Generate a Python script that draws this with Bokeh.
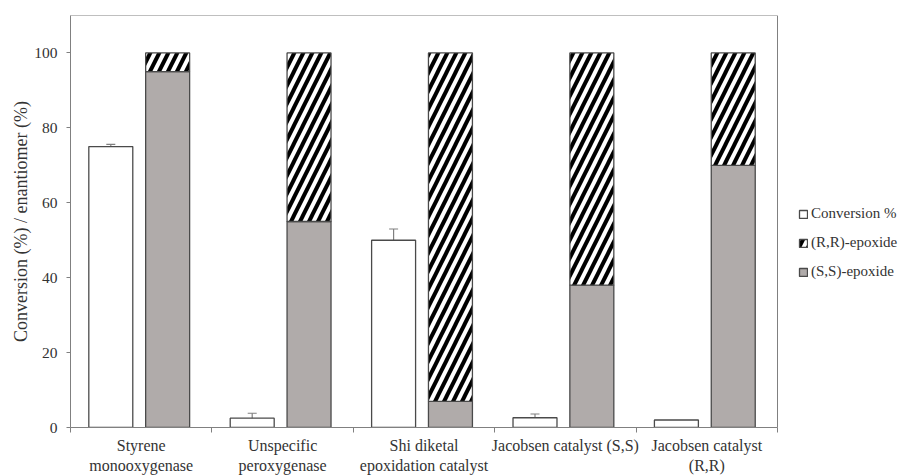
from bokeh.plotting import figure
from bokeh.models import (Range1d, FixedTicker, Legend, LegendItem, Whisker,
                          ColumnDataSource, TeeHead, LinearAxis)
from bokeh.embed import file_html
from bokeh.resources import INLINE

# ---- data ----
categories = ["Styrene monooxygenase",
              "Unspecific peroxygenase",
              "Shi diketal epoxidation catalyst",
              "Jacobsen catalyst (S,S)",
              "Jacobsen catalyst (R,R)"]
label_line1 = ["Styrene", "Unspecific", "Shi diketal",
               "Jacobsen catalyst (S,S)", "Jacobsen catalyst"]
label_line2 = ["monooxygenase", "peroxygenase", "epoxidation catalyst",
               "", "(R,R)"]
conversion = [75.0, 2.5, 50.0, 2.6, 2.0]
conversion_err = [0.6, 1.3, 3.0, 1.0, 0.0]
ss_epoxide = [95.0, 55.0, 7.0, 38.0, 70.0]
rr_epoxide = [5.0, 45.0, 93.0, 62.0, 30.0]
y_ticks = [0, 20, 40, 60, 80, 100]
y_max = 110

# ---- layout helpers (category index -> numeric x) ----
n = len(categories)
centers = [i + 0.5 for i in range(n)]
bar_w = 0.311
conv_x = [c - 0.215 for c in centers]
epo_x = [c + 0.187 for c in centers]
rr_top = [s + r for s, r in zip(ss_epoxide, rr_epoxide)]

FONT = "Liberation Serif"
TXT = "#333333"
EDGE = "#4a4a4a"
AX = "#808080"

W, H = 904, 476
LEFT, TOP, BOTTOM = 70, 15, 49
PLOT_PX = 707                      # width of the boxed plot area
x_end = n * (W - LEFT) / PLOT_PX   # room on the right for the legend

p = figure(width=W, height=H, x_range=Range1d(0, x_end), y_range=Range1d(0, y_max),
           output_backend="svg", toolbar_location=None,
           min_border_left=LEFT, min_border_right=0, min_border_top=TOP,
           min_border_bottom=BOTTOM)
p.background_fill_color = "white"
p.border_fill_color = "white"
p.outline_line_color = None
p.xgrid.visible = False
p.ygrid.visible = False

# plot-area box (0..n, 0..y_max)
p.quad(left=[0], right=[n], bottom=[0], top=[y_max], fill_color=None,
       line_color=AX, line_width=1)

r_conv = p.vbar(x=conv_x, top=conversion, bottom=0, width=bar_w,
                fill_color="white", line_color=EDGE, line_width=1.3)
r_ss = p.vbar(x=epo_x, top=ss_epoxide, bottom=0, width=bar_w,
              fill_color="#B0ABAA", line_color=EDGE, line_width=1.3)
r_rr = p.vbar(x=epo_x, top=rr_top, bottom=ss_epoxide, width=bar_w,
              fill_color="white", line_color=EDGE, line_width=1.3,
              hatch_pattern="/", hatch_color="black", hatch_weight=4,
              hatch_scale=18)

# error bars (only where an error is shown)
ex, up, lo = [], [], []
for x, v, e in zip(conv_x, conversion, conversion_err):
    if e > 0:
        ex.append(x); up.append(v + e); lo.append(v - e)
src = ColumnDataSource(dict(x=ex, upper=up, lower=lo))
p.add_layout(Whisker(base="x", upper="upper", lower="lower", source=src,
                     line_color=AX, line_width=1.2,
                     upper_head=TeeHead(size=9, line_color=AX, line_width=1.2),
                     lower_head=TeeHead(size=9, line_color=AX, line_width=1.2)))

# x axis: first label lines at category centres, tick marks at boundaries
xa = p.xaxis[0]
xa.bounds = (0, n)
xa.ticker = FixedTicker(ticks=centers, minor_ticks=list(range(n + 1)))
xa.major_label_overrides = {c: lab for c, lab in zip(centers, label_line1)}
xa.major_tick_out = 0
xa.major_tick_in = 0
xa.minor_tick_out = 5
xa.minor_tick_in = 0
xa.minor_tick_line_color = AX
xa.axis_line_color = AX
xa.major_label_standoff = 4
xa.major_label_text_font = FONT
xa.major_label_text_font_size = "16px"
xa.major_label_text_color = TXT

# second line of the category labels
xa2 = LinearAxis(ticker=FixedTicker(ticks=centers, minor_ticks=[]))
xa2.bounds = (0, n)
xa2.major_label_overrides = {c: lab for c, lab in zip(centers, label_line2)}
xa2.axis_line_color = None
xa2.major_tick_line_color = None
xa2.minor_tick_line_color = None
xa2.major_tick_out = 0
xa2.major_tick_in = 0
xa2.major_label_standoff = 0
xa2.major_label_text_font = FONT
xa2.major_label_text_font_size = "16px"
xa2.major_label_text_color = TXT
p.add_layout(xa2, "below")

ya = p.yaxis[0]
ya.bounds = (0, y_max)
ya.ticker = FixedTicker(ticks=y_ticks, minor_ticks=[])
ya.major_tick_out = 4
ya.major_tick_in = 0
ya.major_tick_line_color = AX
ya.axis_line_color = AX
ya.major_label_standoff = 9
ya.major_label_text_font = FONT
ya.major_label_text_font_size = "15.5px"
ya.major_label_text_color = TXT
ya.axis_label = "Conversion (%) / enantiomer (%)"
ya.axis_label_text_font = FONT
ya.axis_label_text_font_size = "18px"
ya.axis_label_text_font_style = "normal"
ya.axis_label_text_color = TXT
ya.axis_label_standoff = 0

legend = Legend(items=[LegendItem(label="Conversion %", renderers=[r_conv]),
                       LegendItem(label="(R,R)-epoxide", renderers=[r_rr]),
                       LegendItem(label="(S,S)-epoxide", renderers=[r_ss])],
                location=(728, 146), padding=0, margin=0, spacing=10,
                label_height=19, glyph_height=10, glyph_width=10,
                label_standoff=3, border_line_color=None,
                background_fill_alpha=0,
                label_text_font=FONT, label_text_font_size="15px",
                label_text_color=TXT)
p.add_layout(legend)

open("out.html", "w").write(file_html(p, INLINE))
